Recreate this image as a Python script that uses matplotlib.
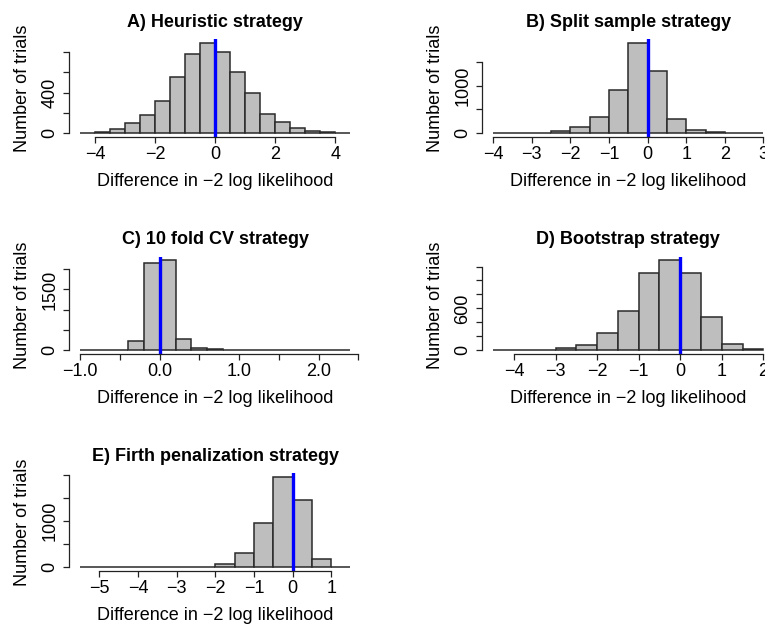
import numpy as np
import matplotlib
matplotlib.use("Agg")
import matplotlib.pyplot as plt

plt.rcParams['font.family'] = ['Liberation Sans', 'DejaVu Sans']

# histogram counts (bin width given per panel)
edges_a = np.arange(-4.5, 4.51, 0.5)
counts_a = [3, 12, 36, 99, 178, 314, 552, 777, 889, 797, 598, 400, 192, 106, 50, 23, 7, 0]

edges_b = np.arange(-4.0, 3.01, 0.5)
counts_b = [1, 2, 10, 35, 120, 338, 915, 1901, 1310, 289, 68, 28, 5, 1]

edges_c = np.arange(-1.0, 2.41, 0.2)
counts_c = [0, 1, 17, 224, 2158, 2224, 274, 66, 25, 8, 3, 2, 1, 1, 0, 0, 1]

edges_d = np.arange(-4.5, 2.01, 0.5)
counts_d = [1, 2, 10, 39, 72, 246, 569, 1108, 1292, 1108, 477, 91, 12]

edges_e = np.arange(-5.5, 1.51, 0.5)
counts_e = [1, 1, 1, 1, 1, 5, 15, 80, 308, 960, 1956, 1465, 176, 0]

titles = ["A) Heuristic strategy", "B) Split sample strategy",
          "C) 10 fold CV strategy", "D) Bootstrap strategy",
          "E) Firth penalization strategy"]

# axis ticks, and which tick labels R actually printed
xticks = [[-4, -2, 0, 2, 4], [-4, -3, -2, -1, 0, 1, 2, 3],
          [-1.0, -0.5, 0.0, 0.5, 1.0, 1.5, 2.0, 2.5],
          [-4, -3, -2, -1, 0, 1, 2], [-5, -4, -3, -2, -1, 0, 1]]
xlabels = [["\u22124", "\u22122", "0", "2", "4"],
           ["\u22124", "\u22123", "\u22122", "\u22121", "0", "1", "2", "3"],
           ["\u22121.0", "", "0.0", "", "1.0", "", "2.0", ""],
           ["\u22124", "\u22123", "\u22122", "\u22121", "0", "1", "2"],
           ["\u22125", "\u22124", "\u22123", "\u22122", "\u22121", "0", "1"]]
yticks = [[0, 200, 400, 600, 800], [0, 500, 1000, 1500],
          [0, 500, 1000, 1500, 2000], [0, 200, 400, 600, 800, 1000, 1200],
          [0, 500, 1000, 1500, 2000]]
ylabels = [["0", "", "400", "", ""], ["0", "", "1000", ""],
           ["0", "", "", "1500", ""], ["0", "", "", "600", "", "", ""],
           ["0", "", "1000", "", ""]]

edges = [edges_a, edges_b, edges_c, edges_d, edges_e]
counts = [counts_a, counts_b, counts_c, counts_d, counts_e]

W, H = 765, 625
fig = plt.figure(figsize=(W / 100, H / 100), dpi=100)

# plot regions in pixels: left, top (from figure top), width, height
lefts = [69.3, 482.3, 69.3, 482.3, 69.3]
tops = [39.3, 39.3, 256.5, 256.5, 473.5]
pw, ph = 292, 97.4

for i in range(5):
    ax = fig.add_axes([lefts[i] / W, 1 - (tops[i] + ph) / H, pw / W, ph / H])
    e = edges[i]
    c = counts[i]
    ax.bar(e[:-1], c, width=np.diff(e), align='edge', color='#bebebe',
           edgecolor='#2a2a2a', linewidth=1.1)
    ax.axvline(0, color='blue', linewidth=2.4)

    span = e[-1] - e[0]
    ax.set_xlim(e[0] - 0.04 * span, e[-1] + 0.04 * span)
    m = max(c)
    ax.set_ylim(-0.04 * m, 1.04 * m)

    for s in ['top', 'right']:
        ax.spines[s].set_visible(False)
    for s in ['left', 'bottom']:
        ax.spines[s].set_linewidth(0.9)
        ax.spines[s].set_color('#222222')
    ax.spines['bottom'].set_bounds(xticks[i][0], xticks[i][-1])
    ax.spines['left'].set_bounds(yticks[i][0], yticks[i][-1])

    ax.set_xticks(xticks[i])
    ax.set_xticklabels(xlabels[i], fontsize=13)
    ax.set_yticks(yticks[i])
    ax.set_yticklabels(ylabels[i], fontsize=13, rotation=90, va='center')
    ax.tick_params(direction='out', length=4, width=0.9, color='#222222',
                   pad=2.5)
    ax.tick_params(axis='y', pad=4)

    ax.set_title(titles[i], fontsize=13, fontweight='bold', pad=9)
    ax.annotate("Difference in \u22122 log likelihood", xy=(0.5, 0),
                xycoords='axes fraction', xytext=(0, -26),
                textcoords='offset points', ha='center', va='top',
                fontsize=13)
    ax.annotate("Number of trials", xy=(0, 0.5), xycoords='axes fraction',
                xytext=(-35.5 + 2, 0), textcoords='offset points', ha='center',
                va='center', rotation=90, fontsize=13)

fig.savefig("out.png", dpi=100)
